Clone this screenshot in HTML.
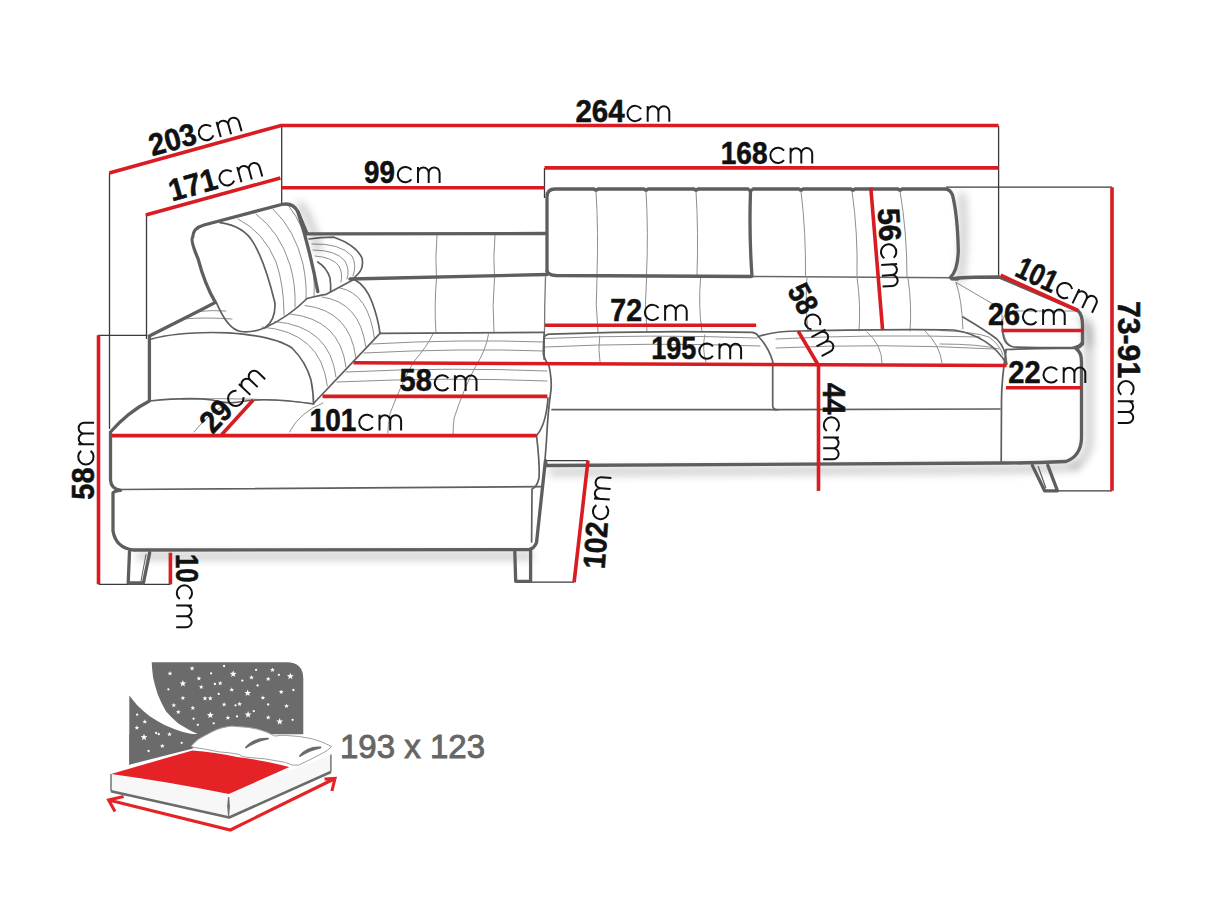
<!DOCTYPE html>
<html><head><meta charset="utf-8"><style>
html,body{margin:0;padding:0;background:#fff;}
svg{display:block;}
text{font-family:"Liberation Sans",sans-serif;}
</style></head>
<body>
<svg width="1214" height="910" viewBox="0 0 1214 910">
<!-- interior thin lines -->
<g stroke="#8f8f8f" stroke-width="1" fill="none" stroke-linecap="round">
<!-- right back top seams -->
<path d="M751 276.5L951 277.8" stroke="#666" stroke-width="1.5"/>
<path d="M596 191Q598.5 232 597 275"/>
<path d="M646 191Q648.5 232 646.5 275"/>
<path d="M696 191Q698.5 232 697 275"/>
<path d="M801 191Q806 232 805.5 276"/>
<path d="M852 191Q858 232 857 277"/>
<path d="M900 191Q907 232 907 277"/>
<!-- right back lower seams -->
<path d="M597 277Q595 305 598 332"/>
<path d="M646.6 277Q644 305 647 332"/>
<path d="M700.7 277Q698 305 702 332"/>
<path d="M807 277Q805 305 808 331"/>
<path d="M857 277Q861 305 859 331"/>
<path d="M908 278Q912 305 910 331"/>
<!-- corner back seams -->
<path d="M545.5 277Q544.5 305 544.5 333" stroke="#777" stroke-width="1.3"/>
<path d="M437 235Q435 258 436.5 279"/>
<path d="M495 235Q493 258 494.5 278"/>
<path d="M436.5 279Q434 305 436 333"/>
<path d="M494.5 278Q492 305 494 333"/>
<!-- right seat quilting rows -->
<path d="M545 338.5Q650 334 757 338"/>
<path d="M545 347Q650 342 760 346"/>
<path d="M776 339Q870 334 980 337"/>
<path d="M776 348Q880 343 995 349"/>
<path d="M599.7 336Q598 350 600 362"/>
<path d="M704.7 335Q702 350 706 362"/>
<path d="M867 332Q882 345 882 363"/>
<path d="M925 331Q940 345 942 363"/>
<!-- front face bottoms -->
<!-- chaise front face bottom -->
<!-- chaise seat quilting -->
<path d="M372 344Q460 339 544 342"/>
<path d="M364 353Q460 348 544 351"/>
<path d="M346 372Q450 367 547 371"/>
<path d="M337 382Q450 377 547 381"/>
<path d="M432.8 334.3Q428 345 413.5 362.1Q402 382 390 413.5Q388 425 387.8 433"/>
<path d="M488.5 334.3Q486 350 475.6 366.4Q464 388 454.2 417.8Q453 426 453.1 434"/>
<path d="M194 432Q210 412 225 405"/>
<path d="M289.5 432Q300 412 323 403"/>
<!-- arm inner right side -->
<path d="M956 282.4Q962 300 962.9 329"/>
<path d="M956 282.4L991.9 303.4L1001.8 310.8"/>
<path d="M940 330.5Q975 332 989 337Q1000 345 1003 355"/>
<path d="M940 344Q980 344 999 349"/>
<!-- arm pad left edge -->
<path d="M1002 324Q1003 311.5 1013 311H1077"/>
<path d="M1001.8 310.8Q1002 330 1005 338Q1008 346 1014 347.2"/>
<!-- chaise arm top/back ribs -->
<path d="M199 311.4Q212 310 226 311"/>
<path d="M183 319Q205 317 232 319"/>
<path d="M182.8 399.2Q260 397 313.5 403.5"/>
<!-- headrest ribs -->
<path d="M238 219Q264 232 276 262Q284 285 284 315"/>
<path d="M256 214Q280 232 290 265Q296 285 295 307"/>
<path d="M273 209Q295 230 303 264Q307 284 306 299.5"/>
<path d="M288 205Q305 226 312 260Q315 280 314 296"/>
<!-- side cushion ribs -->
<path d="M312 244Q340 243 352 256Q357 265 353 276"/>
<path d="M313 250Q336 250 345 261Q350 270 347 279"/>
<path d="M315 256Q332 257 339 266Q343 274 341 282"/>
<!-- lower backrest ribs -->
<path d="M262 327Q321.3 332 327.3 386"/>
<path d="M275 321.5Q330 326.5 336 377"/>
<path d="M290 314Q340 319 346 367"/>
<path d="M305 305.5Q349.8 310.5 355.8 357.4"/>
<path d="M322 297Q359.7 302 365.7 346.4"/>
<path d="M340 288Q368.5 293 374.5 338.7"/>
</g>
<g stroke="#5f5f5f" stroke-width="1.7" fill="none" stroke-linecap="round" stroke-linejoin="round">
<path d="M552 409.6H772.7Q776 410 778 409.6L1000 409"/>
<path d="M118 489.5L543 486.6"/>
<path d="M962.9 317Q985 330 996.8 339Q1006 348 1006.7 364"/>
<!-- right seat top back edge -->
<path d="M544.1 359V338Q545 334.4 550 334.2Q650 330 752 332.4Q757 333 758.3 336.5Q768 346 772.7 361.2V406Q773 409.6 778 409.6"/>
<path d="M758.3 336.5Q775 331 800 331Q900 329 954 330Q990 336 1006.7 364"/>
<!-- seat front right cushion bottom -->
<!-- headrest front face -->
<path d="M220 222.6Q244 226 253.5 242.9Q265 262 274.9 302.8Q276 320 265 327.8Q252 333 241 331.5Q228 330 216.3 302.4"/>
<!-- headrest bottom line -->
<path d="M265 327.8Q290 316 307 298.5Q320 295 326.3 294.3L354.2 279.3"/>
<!-- side ribbed cushion -->
<path d="M309 239Q320 237.5 334 237.2Q356 245 362 258Q364 268 358 274Q355 277 353 279"/>
<path d="M317.8 262Q327 268 330 278Q331 285 330.6 292"/>
<!-- lower backrest outer -->
<path d="M354.2 279.3Q366 286 372 302Q378 318 380 333.4"/>
<path d="M380 333.4L544 332.3"/>
<path d="M380 333.4L313.5 403.5"/>
<!-- chaise arm top surface -->
<path d="M150.7 339.2Q180 331 228.5 332.8Q275 336 292 348Q306 362 311 380Q313.5 393 313.5 403.5"/>
<path d="M149.4 401Q190 397 212 400Q228 405 245 401Q270 397.5 313.5 404"/>
<!-- chaise right edge upper -->
<path d="M544.2 333.2Q543 350 543.5 355Q545 360 549 365.7Q552 380 551 390Q548 410 546.5 440L545 460"/>
<path d="M548 398Q546 425 536.5 435.5"/>
<path d="M536.5 435.5Q540 465 539 478Q537 487 532 489L531.6 542"/>
<!-- arm pad bottom -->
<path d="M1002 320Q1002 336 1005 341Q1008 346 1014 347Q1050 348 1072 347.5Q1080 346 1081.5 342.4"/>
<path d="M1006.2 349.5Q1040 348 1076.4 348.5"/>
<path d="M1006.2 349.5Q1001.5 380 1001.5 401L1001.2 461"/>
</g>

<defs><filter id="bl" x="-20%" y="-50%" width="140%" height="200%"><feGaussianBlur stdDeviation="4"/></filter></defs>
<g stroke="#000" stroke-opacity="0.22" stroke-width="7" fill="none" filter="url(#bl)" stroke-linecap="round">
<path d="M552 472L999 469.5Q1060 468 1076 466"/>
<path d="M140 556L530 556"/>
<path d="M962 196Q966 240 960 280"/>
<path d="M1089 325V445Q1085 460 1075 466"/>
<path d="M300 205Q312 220 318 250"/>
<path d="M1082 318Q1090 330 1089 344"/>
</g>
<!-- extension lines -->
<g stroke="#3a3a3a" stroke-width="1.3" fill="none">
<path d="M109.5 173V429"/>
<path d="M98 335.3H147.4"/>
<path d="M146.5 215V339"/>
<path d="M281.7 125V203"/>
<path d="M544.5 168V198"/>
<path d="M998.6 126V276"/>
<path d="M946 187.2H1112"/>
<path d="M1058 490.8H1112"/>
<path d="M98.7 584.3H170.4"/>
<path d="M531 582.2H574"/>
<path d="M546 460.6H588"/>
</g>
<!-- sofa thick outlines -->
<g stroke="#5e5e5e" stroke-width="3.3" fill="none" stroke-linejoin="round" stroke-linecap="round">
<!-- right back cushions -->
<path d="M547 271V197Q547 189 555 189H594Q596 191 598 189H644Q646 191 648 189H694Q696 191 698 189H748Q750.5 192 753 189H799Q801 191 803 189H851Q853 191 855 189H898Q900 191 902 189H945Q950 189 952.5 195Q957.5 215 958.3 250Q958 270 950.5 277.5Q953 279.5 958 278.8"/>
<path d="M750.5 191Q749 235 752 276"/>
<path d="M547 271Q548 275 556 275.5L751 276.5"/>
<!-- left corner back top -->
<path d="M307 233.8L545 233.5"/>
<path d="M350 279L547 274.5"/>
<!-- main body outline -->
<path d="M951.8 278.8Q960 277 999 277L1077.8 310.5Q1083 315 1082.5 328V344Q1080 347 1076 348.5Q1081.5 352 1081.5 362V438Q1081 456 1066 461.5Q1030 463.2 1000 463L546.4 465.5L545.4 460.6L536.5 542.7Q534 549 528.6 549.6L133.3 550Q116 548 113 531V493Q114 491 120.6 490.3Q111 489 110.5 480V432Q128 412 149.4 401V336L200.8 310L215.4 302.4Q205 285 198.1 258.9Q190 240 192.7 237.2Q193 228 204 225L281.6 204.5Q293 202 298 212L307 233.5"/>
<!-- headrest right side -->
<path d="M298 212Q310 250 317.8 291.6"/>
<!-- legs -->
<path d="M129.5 551.5L128.2 583H143.4L149.7 552.7"/>
<path d="M146 554.5L141 581" stroke-width="1"/>
<path d="M514.8 551.6L515.7 581.3H530.6V550.6"/>
<path d="M1032.3 465.4L1044.6 490.8H1057.5L1047.8 465.3"/>
<path d="M1038.2 466.5L1045.7 487.8" stroke-width="1.2"/>
</g>
<!-- red dimension lines -->
<g stroke="#d91c22" stroke-width="3.6" fill="none" stroke-linecap="butt">
<path d="M109.3 173L281 125.5H998.6"/>
<path d="M145.7 215L280.4 178"/>
<path d="M281.7 187.8H544.5"/>
<path d="M544.5 167.9H998.6"/>
<path d="M870.8 187.7L882.6 330"/>
<path d="M545 325.3H756.2"/>
<path d="M353.5 362.8L1006.6 365.5"/>
<path d="M322.5 396.4H547.4"/>
<path d="M111.8 435.6H536.7"/>
<path d="M221.6 434.7L253.2 400"/>
<path d="M98.5 335.3V584.3"/>
<path d="M170.4 552.7V584.3"/>
<path d="M588 460.6L574.1 582.2"/>
<path d="M818.5 365.5V490.9"/>
<path d="M798.2 331.2L818.5 365.5"/>
<path d="M1112 187.2V490.8"/>
<path d="M1000.7 275.2L1077.8 310.5"/>
<path d="M1001.6 330.5H1084"/>
<path d="M1006 387.7H1081.5"/>
</g>
<g fill="#111">
<g transform="translate(575.4 121.7)"><text font-size="31" font-weight="bold" stroke="#111" stroke-width="0.55" textLength="49.2" lengthAdjust="spacingAndGlyphs">264</text><path transform="translate(50.7 0)" d="M15.03 -12.91A7.65 7.65 0 1 0 15.03 -3.49M21.6 0V-15.8M21.6 -10A5.35 5.35 0 0 1 32.3 -10V0M32.3 -10A5.45 5.45 0 0 1 43.2 -10V0" fill="none" stroke="#111" stroke-width="2.0"/></g>
<g transform="translate(720.7 163.5)"><text font-size="31" font-weight="bold" stroke="#111" stroke-width="0.55" textLength="46.8" lengthAdjust="spacingAndGlyphs">168</text><path transform="translate(48.3 0)" d="M15.03 -12.91A7.65 7.65 0 1 0 15.03 -3.49M21.6 0V-15.8M21.6 -10A5.35 5.35 0 0 1 32.3 -10V0M32.3 -10A5.45 5.45 0 0 1 43.2 -10V0" fill="none" stroke="#111" stroke-width="2.0"/></g>
<g transform="translate(364.1 182.9)"><text font-size="31" font-weight="bold" stroke="#111" stroke-width="0.55" textLength="30.8" lengthAdjust="spacingAndGlyphs">99</text><path transform="translate(32.3 0)" d="M15.03 -12.91A7.65 7.65 0 1 0 15.03 -3.49M21.6 0V-15.8M21.6 -10A5.35 5.35 0 0 1 32.3 -10V0M32.3 -10A5.45 5.45 0 0 1 43.2 -10V0" fill="none" stroke="#111" stroke-width="2.0"/></g>
<g transform="translate(610.3 320.7)"><text font-size="31" font-weight="bold" stroke="#111" stroke-width="0.55" textLength="31.7" lengthAdjust="spacingAndGlyphs">72</text><path transform="translate(33.2 0)" d="M15.03 -12.91A7.65 7.65 0 1 0 15.03 -3.49M21.6 0V-15.8M21.6 -10A5.35 5.35 0 0 1 32.3 -10V0M32.3 -10A5.45 5.45 0 0 1 43.2 -10V0" fill="none" stroke="#111" stroke-width="2.0"/></g>
<g transform="translate(651.2 359.3)"><text font-size="31" font-weight="bold" stroke="#111" stroke-width="0.55" textLength="45.2" lengthAdjust="spacingAndGlyphs">195</text><path transform="translate(46.7 0)" d="M15.03 -12.91A7.65 7.65 0 1 0 15.03 -3.49M21.6 0V-15.8M21.6 -10A5.35 5.35 0 0 1 32.3 -10V0M32.3 -10A5.45 5.45 0 0 1 43.2 -10V0" fill="none" stroke="#111" stroke-width="2.0"/></g>
<g transform="translate(399.6 391)"><text font-size="31" font-weight="bold" stroke="#111" stroke-width="0.55" textLength="32.2" lengthAdjust="spacingAndGlyphs">58</text><path transform="translate(33.7 0)" d="M15.03 -12.91A7.65 7.65 0 1 0 15.03 -3.49M21.6 0V-15.8M21.6 -10A5.35 5.35 0 0 1 32.3 -10V0M32.3 -10A5.45 5.45 0 0 1 43.2 -10V0" fill="none" stroke="#111" stroke-width="2.0"/></g>
<g transform="translate(309.6 430.6)"><text font-size="31" font-weight="bold" stroke="#111" stroke-width="0.55" textLength="46.8" lengthAdjust="spacingAndGlyphs">101</text><path transform="translate(48.3 0)" d="M15.03 -12.91A7.65 7.65 0 1 0 15.03 -3.49M21.6 0V-15.8M21.6 -10A5.35 5.35 0 0 1 32.3 -10V0M32.3 -10A5.45 5.45 0 0 1 43.2 -10V0" fill="none" stroke="#111" stroke-width="2.0"/></g>
<g transform="translate(988 325)"><text font-size="31" font-weight="bold" stroke="#111" stroke-width="0.55" textLength="32.0" lengthAdjust="spacingAndGlyphs">26</text><path transform="translate(33.5 0)" d="M15.03 -12.91A7.65 7.65 0 1 0 15.03 -3.49M21.6 0V-15.8M21.6 -10A5.35 5.35 0 0 1 32.3 -10V0M32.3 -10A5.45 5.45 0 0 1 43.2 -10V0" fill="none" stroke="#111" stroke-width="2.0"/></g>
<g transform="translate(1008.3 383)"><text font-size="31" font-weight="bold" stroke="#111" stroke-width="0.55" textLength="32.3" lengthAdjust="spacingAndGlyphs">22</text><path transform="translate(33.8 0)" d="M15.03 -12.91A7.65 7.65 0 1 0 15.03 -3.49M21.6 0V-15.8M21.6 -10A5.35 5.35 0 0 1 32.3 -10V0M32.3 -10A5.45 5.45 0 0 1 43.2 -10V0" fill="none" stroke="#111" stroke-width="2.0"/></g>
<g transform="translate(152.3 156.2) rotate(-15.6)"><text font-size="31" font-weight="bold" stroke="#111" stroke-width="0.55" textLength="48.0" lengthAdjust="spacingAndGlyphs">203</text><path transform="translate(49.5 0)" d="M15.03 -12.91A7.65 7.65 0 1 0 15.03 -3.49M21.6 0V-15.8M21.6 -10A5.35 5.35 0 0 1 32.3 -10V0M32.3 -10A5.45 5.45 0 0 1 43.2 -10V0" fill="none" stroke="#111" stroke-width="2.0"/></g>
<g transform="translate(172 201.6) rotate(-15.5)"><text font-size="31" font-weight="bold" stroke="#111" stroke-width="0.55" textLength="49.0" lengthAdjust="spacingAndGlyphs">171</text><path transform="translate(50.5 0)" d="M15.03 -12.91A7.65 7.65 0 1 0 15.03 -3.49M21.6 0V-15.8M21.6 -10A5.35 5.35 0 0 1 32.3 -10V0M32.3 -10A5.45 5.45 0 0 1 43.2 -10V0" fill="none" stroke="#111" stroke-width="2.0"/></g>
<g transform="translate(1013.4 275.2) rotate(25.5)"><text font-size="31" font-weight="bold" stroke="#111" stroke-width="0.55" textLength="42.4" lengthAdjust="spacingAndGlyphs">101</text><path transform="translate(43.9 0)" d="M15.03 -12.91A7.65 7.65 0 1 0 15.03 -3.49M21.6 0V-15.8M21.6 -10A5.35 5.35 0 0 1 32.3 -10V0M32.3 -10A5.45 5.45 0 0 1 43.2 -10V0" fill="none" stroke="#111" stroke-width="2.0"/></g>
<g transform="translate(212.7 434.7) rotate(-46.6)"><text font-size="31" font-weight="bold" stroke="#111" stroke-width="0.55" textLength="31.7" lengthAdjust="spacingAndGlyphs">29</text><path transform="translate(33.2 0)" d="M15.03 -12.91A7.65 7.65 0 1 0 15.03 -3.49M21.6 0V-15.8M21.6 -10A5.35 5.35 0 0 1 32.3 -10V0M32.3 -10A5.45 5.45 0 0 1 43.2 -10V0" fill="none" stroke="#111" stroke-width="2.0"/></g>
<g transform="translate(786.8 290.6) rotate(62)"><text font-size="31" font-weight="bold" stroke="#111" stroke-width="0.55" textLength="29.5" lengthAdjust="spacingAndGlyphs">58</text><path transform="translate(31.0 0)" d="M15.03 -12.91A7.65 7.65 0 1 0 15.03 -3.49M21.6 0V-15.8M21.6 -10A5.35 5.35 0 0 1 32.3 -10V0M32.3 -10A5.45 5.45 0 0 1 43.2 -10V0" fill="none" stroke="#111" stroke-width="2.0"/></g>
<g transform="translate(877.8 208.7) rotate(86.5)"><text font-size="31" font-weight="bold" stroke="#111" stroke-width="0.55" textLength="33.3" lengthAdjust="spacingAndGlyphs">56</text><path transform="translate(34.8 0)" d="M15.03 -12.91A7.65 7.65 0 1 0 15.03 -3.49M21.6 0V-15.8M21.6 -10A5.35 5.35 0 0 1 32.3 -10V0M32.3 -10A5.45 5.45 0 0 1 43.2 -10V0" fill="none" stroke="#111" stroke-width="2.0"/></g>
<g transform="translate(823.2 382.7) rotate(90)"><text font-size="31" font-weight="bold" stroke="#111" stroke-width="0.55" textLength="31.8" lengthAdjust="spacingAndGlyphs">44</text><path transform="translate(33.3 0)" d="M15.03 -12.91A7.65 7.65 0 1 0 15.03 -3.49M21.6 0V-15.8M21.6 -10A5.35 5.35 0 0 1 32.3 -10V0M32.3 -10A5.45 5.45 0 0 1 43.2 -10V0" fill="none" stroke="#111" stroke-width="2.0"/></g>
<g transform="translate(1117.8 301) rotate(90)"><text font-size="31" font-weight="bold" stroke="#111" stroke-width="0.55" textLength="77.2" lengthAdjust="spacingAndGlyphs">73-91</text><path transform="translate(78.7 0)" d="M15.03 -12.91A7.65 7.65 0 1 0 15.03 -3.49M21.6 0V-15.8M21.6 -10A5.35 5.35 0 0 1 32.3 -10V0M32.3 -10A5.45 5.45 0 0 1 43.2 -10V0" fill="none" stroke="#111" stroke-width="2.0"/></g>
<g transform="translate(94.1 499.7) rotate(-90)"><text font-size="31" font-weight="bold" stroke="#111" stroke-width="0.55" textLength="32.3" lengthAdjust="spacingAndGlyphs">58</text><path transform="translate(33.8 0)" d="M15.03 -12.91A7.65 7.65 0 1 0 15.03 -3.49M21.6 0V-15.8M21.6 -10A5.35 5.35 0 0 1 32.3 -10V0M32.3 -10A5.45 5.45 0 0 1 43.2 -10V0" fill="none" stroke="#111" stroke-width="2.0"/></g>
<g transform="translate(176.2 554) rotate(90)"><text font-size="31" font-weight="bold" stroke="#111" stroke-width="0.55" textLength="28.5" lengthAdjust="spacingAndGlyphs">10</text><path transform="translate(30.0 0)" d="M15.03 -12.91A7.65 7.65 0 1 0 15.03 -3.49M21.6 0V-15.8M21.6 -10A5.35 5.35 0 0 1 32.3 -10V0M32.3 -10A5.45 5.45 0 0 1 43.2 -10V0" fill="none" stroke="#111" stroke-width="2.0"/></g>
<g transform="translate(604.5 569.5) rotate(-85.7)"><text font-size="31" font-weight="bold" stroke="#111" stroke-width="0.55" textLength="47.0" lengthAdjust="spacingAndGlyphs">102</text><path transform="translate(48.5 0)" d="M15.03 -12.91A7.65 7.65 0 1 0 15.03 -3.49M21.6 0V-15.8M21.6 -10A5.35 5.35 0 0 1 32.3 -10V0M32.3 -10A5.45 5.45 0 0 1 43.2 -10V0" fill="none" stroke="#111" stroke-width="2.0"/></g>
</g>
<text x="340" y="758.2" font-size="34" fill="#666" stroke="#666" stroke-width="0.9" textLength="145"  lengthAdjust="spacingAndGlyphs">193 x 123</text>

<!-- bed icon -->
<g>
<path fill="#6b6b6b" d="M151.7 662.3H286.5Q303.3 662.3 303.3 679V734.2H200L129.3 764.7V695.4Q133 700 137.2 705.3Q143 711 149.4 716Q157 721 164.6 725.1Q173 729 182.9 732Q190 734 199.7 735Q188 730 178.3 723.6Q171 717 166.1 711.4Q161 703 157.8 694.6Q155 686 153.2 677.9Q152 670 151.7 662.3Z"/>
<path fill="#6b6b6b" d="M129.3 764.7L192 748.7L215 734H129.3Z"/>
<g fill="#fff"><polygon points="170.0,671.1 170.6,672.8 172.4,672.8 171.0,673.9 171.5,675.6 170.0,674.6 168.5,675.6 169.0,673.9 167.6,672.8 169.4,672.8"/><polygon points="192.1,665.9 192.7,667.6 194.5,667.6 193.1,668.7 193.6,670.4 192.1,669.4 190.6,670.4 191.1,668.7 189.7,667.6 191.5,667.6"/><circle cx="224.1" cy="666.0" r="1.15"/><polygon points="233.2,670.4 234.1,672.8 236.6,672.9 234.6,674.5 235.3,676.9 233.2,675.5 231.1,676.9 231.8,674.5 229.8,672.9 232.3,672.8"/><circle cx="256.1" cy="669.9" r="1.15"/><polygon points="272.5,667.4 273.1,669.1 274.9,669.1 273.5,670.2 274.0,671.9 272.5,670.9 271.0,671.9 271.5,670.2 270.1,669.1 271.9,669.1"/><polygon points="290.3,672.7 291.2,675.1 293.7,675.2 291.7,676.8 292.4,679.2 290.3,677.8 288.2,679.2 288.9,676.8 286.9,675.2 289.4,675.1"/><polygon points="182.9,680.0 183.8,682.4 186.3,682.5 184.3,684.1 185.0,686.5 182.9,685.1 180.8,686.5 181.5,684.1 179.5,682.5 182.0,682.4"/><polygon points="198.9,676.1 199.5,677.8 201.3,677.8 199.9,678.9 200.4,680.6 198.9,679.6 197.4,680.6 197.9,678.9 196.5,677.8 198.3,677.8"/><circle cx="211.1" cy="673.3" r="1.15"/><polygon points="220.2,680.7 220.8,682.4 222.6,682.4 221.2,683.5 221.7,685.2 220.2,684.2 218.7,685.2 219.2,683.5 217.8,682.4 219.6,682.4"/><circle cx="214.9" cy="684.0" r="1.15"/><polygon points="201.2,684.5 201.8,686.2 203.6,686.2 202.2,687.3 202.7,689.0 201.2,688.0 199.7,689.0 200.2,687.3 198.8,686.2 200.6,686.2"/><polygon points="251.5,675.1 252.1,676.8 253.9,676.8 252.5,677.9 253.0,679.6 251.5,678.6 250.0,679.6 250.5,677.9 249.1,676.8 250.9,676.8"/><circle cx="242.3" cy="680.6" r="1.15"/><polygon points="268.2,676.6 268.8,678.3 270.6,678.3 269.2,679.4 269.7,681.1 268.2,680.1 266.7,681.1 267.2,679.4 265.8,678.3 267.6,678.3"/><circle cx="278.9" cy="674.8" r="1.15"/><circle cx="168.4" cy="689.3" r="1.15"/><polygon points="182.9,695.5 183.5,697.2 185.3,697.2 183.9,698.3 184.4,700.0 182.9,699.0 181.4,700.0 181.9,698.3 180.5,697.2 182.3,697.2"/><polygon points="205.0,695.9 205.6,697.6 207.4,697.6 206.0,698.7 206.5,700.4 205.0,699.4 203.5,700.4 204.0,698.7 202.6,697.6 204.4,697.6"/><polygon points="210.3,695.9 210.9,697.6 212.7,697.6 211.3,698.7 211.8,700.4 210.3,699.4 208.8,700.4 209.3,698.7 207.9,697.6 209.7,697.6"/><circle cx="218.7" cy="693.9" r="1.15"/><polygon points="231.7,687.2 232.3,688.9 234.1,688.9 232.7,690.0 233.2,691.7 231.7,690.8 230.2,691.7 230.7,690.0 229.3,688.9 231.1,688.9"/><polygon points="247.7,689.5 248.6,691.9 251.1,692.0 249.1,693.6 249.8,696.0 247.7,694.6 245.6,696.0 246.3,693.6 244.3,692.0 246.8,691.9"/><circle cx="257.6" cy="685.5" r="1.15"/><polygon points="262.9,695.2 263.5,696.9 265.3,696.9 263.9,698.0 264.4,699.7 262.9,698.8 261.4,699.7 261.9,698.0 260.5,696.9 262.3,696.9"/><polygon points="281.2,689.4 281.8,691.1 283.6,691.1 282.2,692.2 282.7,693.9 281.2,692.9 279.7,693.9 280.2,692.2 278.8,691.1 280.6,691.1"/><circle cx="293.4" cy="690.0" r="1.15"/><polygon points="173.8,702.8 174.4,704.5 176.2,704.5 174.8,705.6 175.3,707.3 173.8,706.3 172.3,707.3 172.8,705.6 171.4,704.5 173.2,704.5"/><polygon points="192.8,705.5 193.4,707.2 195.2,707.2 193.8,708.3 194.3,710.0 192.8,709.0 191.3,710.0 191.8,708.3 190.4,707.2 192.2,707.2"/><polygon points="178.3,709.6 178.9,711.3 180.7,711.3 179.3,712.4 179.8,714.1 178.3,713.1 176.8,714.1 177.3,712.4 175.9,711.3 177.7,711.3"/><polygon points="224.1,702.0 224.7,703.7 226.5,703.7 225.1,704.8 225.6,706.5 224.1,705.5 222.6,706.5 223.1,704.8 221.7,703.7 223.5,703.7"/><circle cx="235.5" cy="705.3" r="1.15"/><polygon points="239.6,701.6 240.2,703.3 242.0,703.3 240.6,704.4 241.1,706.1 239.6,705.1 238.1,706.1 238.6,704.4 237.2,703.3 239.0,703.3"/><circle cx="268.2" cy="704.5" r="1.15"/><polygon points="286.5,703.6 287.1,705.3 288.9,705.3 287.5,706.4 288.0,708.1 286.5,707.1 285.0,708.1 285.5,706.4 284.1,705.3 285.9,705.3"/><polygon points="210.3,711.6 211.2,714.0 213.7,714.1 211.7,715.7 212.4,718.1 210.3,716.7 208.2,718.1 208.9,715.7 206.9,714.1 209.4,714.0"/><polygon points="227.9,715.3 228.5,717.0 230.3,717.0 228.9,718.1 229.4,719.8 227.9,718.8 226.4,719.8 226.9,718.1 225.5,717.0 227.3,717.0"/><circle cx="237.0" cy="716.4" r="1.15"/><polygon points="248.1,711.1 249.0,713.5 251.5,713.6 249.5,715.2 250.2,717.6 248.1,716.2 246.0,717.6 246.7,715.2 244.7,713.6 247.2,713.5"/><circle cx="253.8" cy="711.1" r="1.15"/><polygon points="268.2,715.0 268.8,716.7 270.6,716.7 269.2,717.8 269.7,719.5 268.2,718.5 266.7,719.5 267.2,717.8 265.8,716.7 267.6,716.7"/><polygon points="279.7,718.1 280.6,720.5 283.1,720.6 281.1,722.2 281.8,724.6 279.7,723.2 277.6,724.6 278.3,722.2 276.3,720.6 278.8,720.5"/><circle cx="292.6" cy="719.8" r="1.15"/><circle cx="193.6" cy="718.7" r="1.15"/><circle cx="197.8" cy="724.8" r="1.15"/><circle cx="213.7" cy="723.3" r="1.15"/><circle cx="137.2" cy="714.7" r="1.15"/><polygon points="144.8,719.2 145.4,720.9 147.2,720.9 145.8,722.0 146.3,723.7 144.8,722.8 143.3,723.7 143.8,722.0 142.4,720.9 144.2,720.9"/><polygon points="136.9,725.3 137.5,727.0 139.3,727.0 137.9,728.1 138.4,729.8 136.9,728.8 135.4,729.8 135.9,728.1 134.5,727.0 136.3,727.0"/><polygon points="144.0,733.7 144.9,736.1 147.4,736.2 145.4,737.8 146.1,740.2 144.0,738.8 141.9,740.2 142.6,737.8 140.6,736.2 143.1,736.1"/><circle cx="156.2" cy="733.0" r="1.15"/><circle cx="158.8" cy="734.2" r="1.15"/><polygon points="169.5,731.7 170.1,733.4 171.9,733.4 170.5,734.5 171.0,736.2 169.5,735.2 168.0,736.2 168.5,734.5 167.1,733.4 168.9,733.4"/><polygon points="162.3,743.6 162.9,745.3 164.7,745.3 163.3,746.4 163.8,748.1 162.3,747.1 160.8,748.1 161.3,746.4 159.9,745.3 161.7,745.3"/><circle cx="148.6" cy="751.0" r="1.15"/><circle cx="181.7" cy="742.8" r="1.15"/></g>
<!-- mattress faces -->
<path fill="#f7f7f7" d="M111 774V791.3L229.2 817L330.9 771.7V754.5L228.8 794.1Z"/>
<path fill="none" stroke="#6b6b6b" stroke-width="1.4" d="M111 774V791.3M330.9 754.5V771.7"/>
<path fill="none" stroke="#6b6b6b" stroke-width="2.6" stroke-linejoin="round" d="M111 791.3L229.2 817.5L330.9 772"/>
<path fill="#6b6b6b" d="M228.6 797Q227 806 228.6 816Q230 806 228.6 797Z" stroke="#6b6b6b" stroke-width="1.2"/>
<!-- red top -->
<path fill="#e52226" d="M111 774L192.3 750.4Q215 752 237 757Q262 760 289.4 767L228.8 794.1Q170 782 111 774Z"/>
<!-- pillows -->
<path fill="#fff" stroke="#a0a0a0" stroke-width="1" d="M191.2 746Q198 738 206.4 734.8Q218 728 226.1 726.9Q232 725.5 237 726.5Q250 727 259 729.5Q268 732 274.9 736.1Q280 735 285.4 735.4Q300 736 311.8 738.7Q324 742 331.6 746.6Q328 750 325 751.9Q310 760 298.6 765.1Q293 766.5 285.4 762.4Q265 758 245.9 757.2Q241 756.5 239.3 754.5Q230 752.5 219.5 751.9Q205 749 193.2 747.3Z"/>
<path fill="#6b6b6b" d="M245.9 747.5Q254 738 268 738.7Q256 741 245.9 747.5Z" stroke="#6b6b6b" stroke-width="1.8" stroke-linejoin="round"/>
<path fill="#6b6b6b" d="M299.9 756Q308 746.5 320.5 747.5Q309 750 299.9 756Z" stroke="#6b6b6b" stroke-width="1.8" stroke-linejoin="round"/>
<!-- red arrow -->
<path fill="none" stroke="#e52226" stroke-width="3.1" stroke-linejoin="miter" stroke-linecap="butt" d="M108.6 800L230.3 830L335 778.5M123.6 796.5L108.6 800L115 811.5M324.5 779L335 778.5L331.9 791"/>
</g>

</svg>
</body></html>
